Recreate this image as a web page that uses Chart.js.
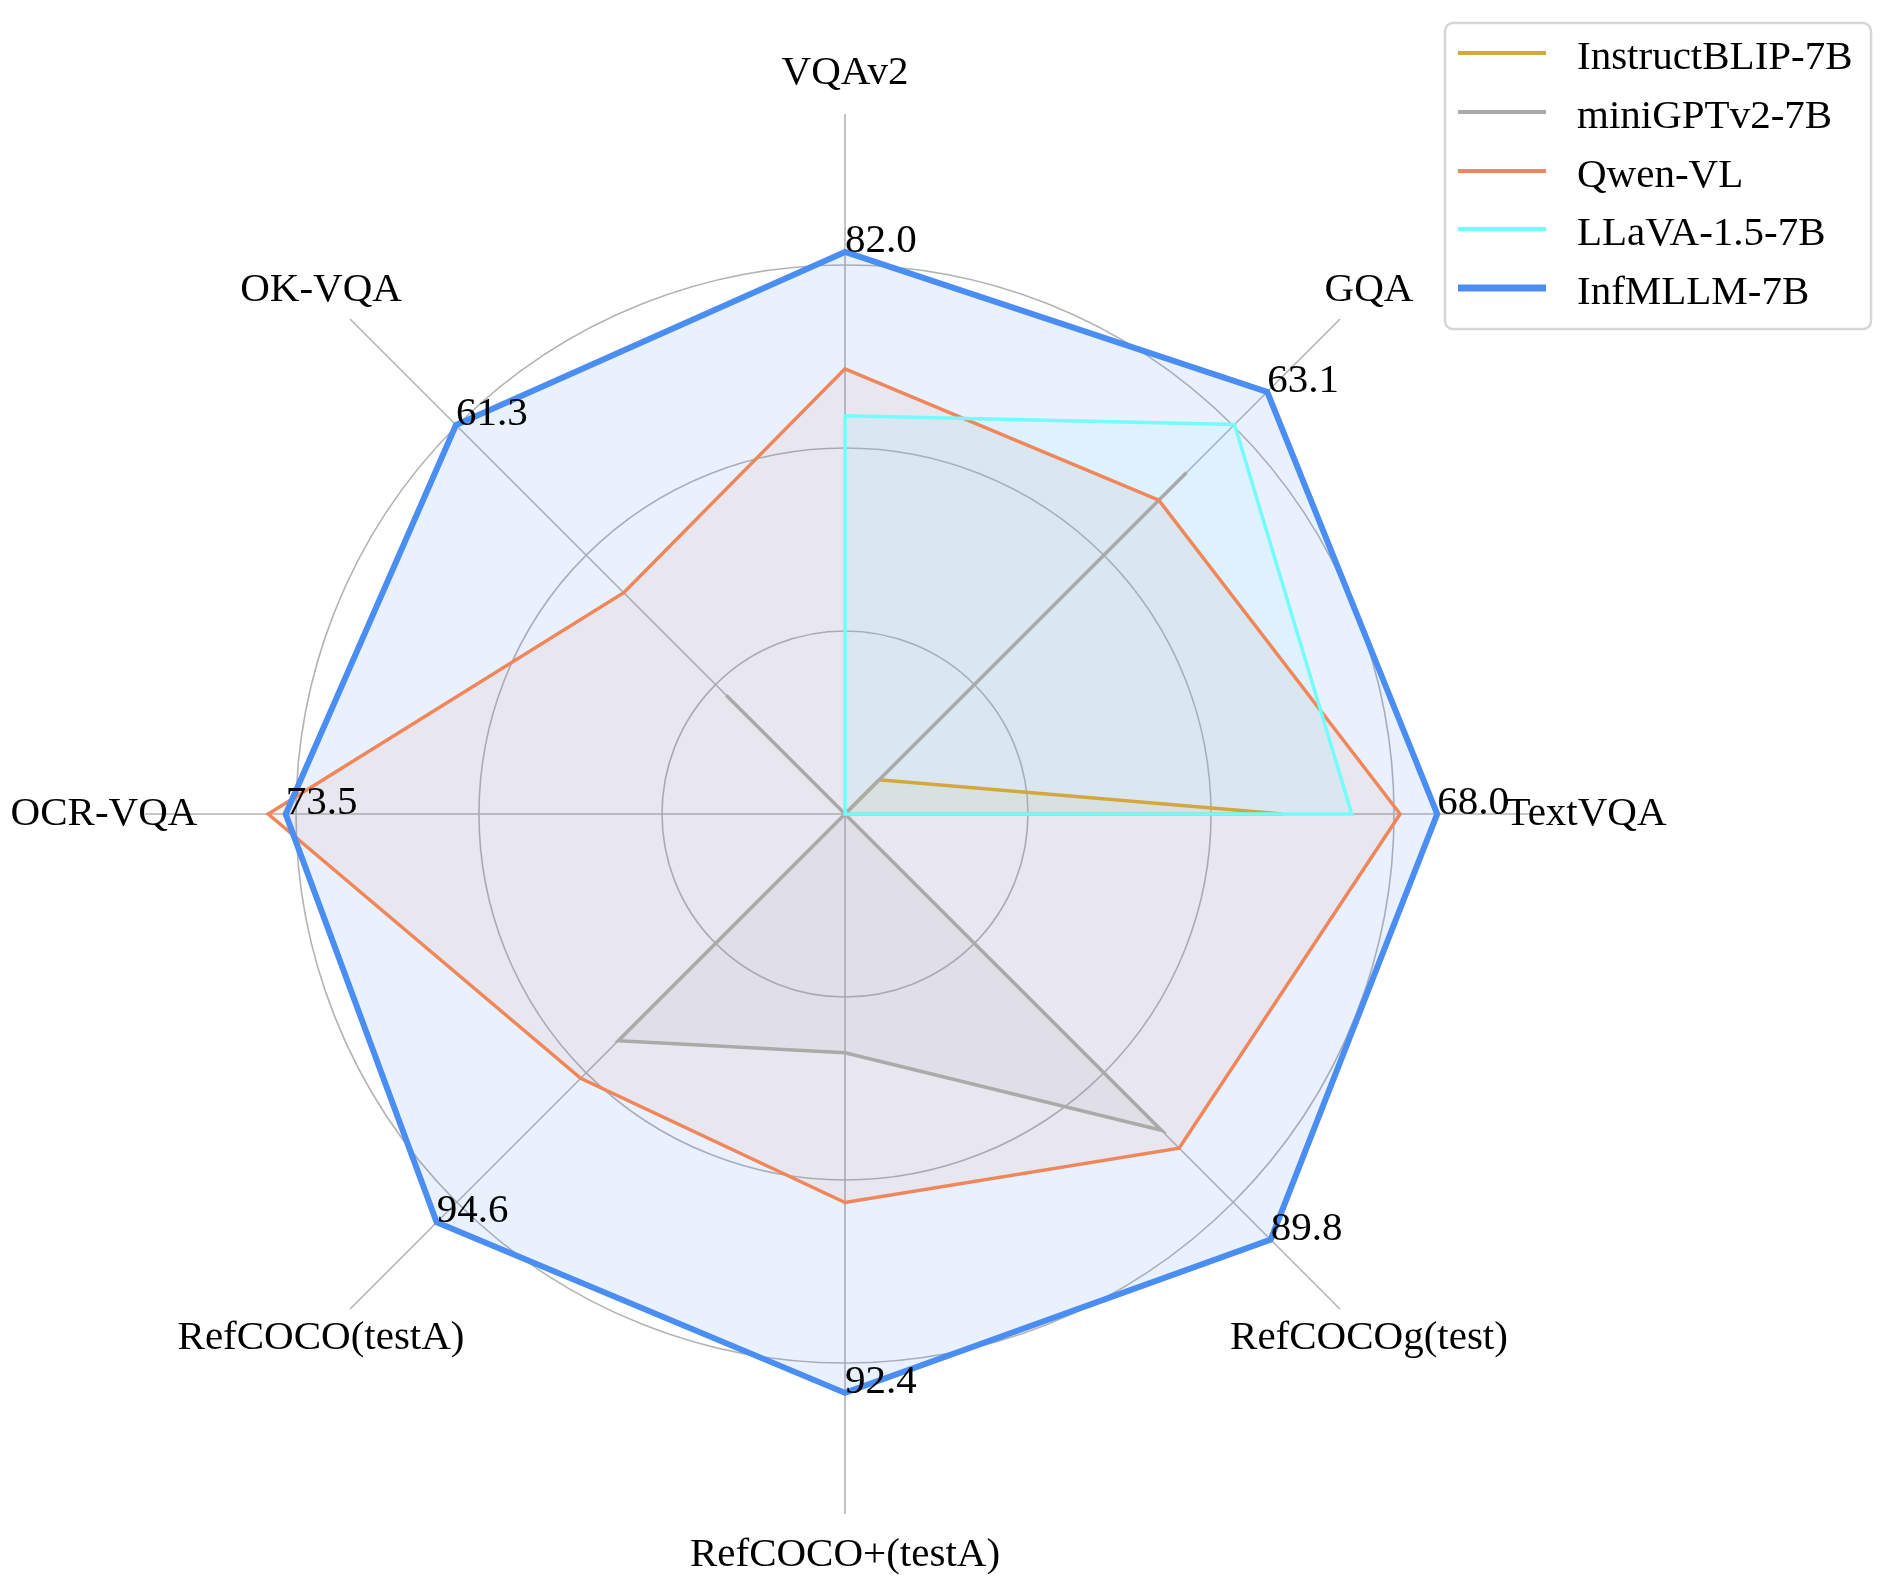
<!DOCTYPE html>
<html>
<head>
<meta charset="utf-8">
<script src="https://cdn.jsdelivr.net/npm/chart.js@4.4.1/dist/chart.umd.min.js"></script>
<style>
  html, body { margin: 0; padding: 0; background: #ffffff; }
  #wrap { width: 1896px; height: 1590px; position: relative; }
  canvas { display: block; }
</style>
</head>
<body>
<div id="wrap"><canvas id="c" width="1896" height="1590"></canvas></div>
<script>
// Axis categories (clockwise from top)
const categories = ['VQAv2', 'GQA', 'TextVQA', 'RefCOCOg(test)', 'RefCOCO+(testA)', 'RefCOCO(testA)', 'OCR-VQA', 'OK-VQA'];
// Value labels shown at InfMLLM points
const infmllmLabels = ['82.0', '63.1', '68.0', '89.8', '92.4', '94.6', '73.5', '61.3'];
// Series names
const seriesNames = ['InstructBLIP-7B', 'miniGPTv2-7B', 'Qwen-VL', 'LLaVA-1.5-7B', 'InfMLLM-7B'];
// Normalised radial positions (axis end = 1)
const instructBLIP = [0, 0.069, 0.625, 0, 0, 0, 0, 0];
const miniGPTv2   = [0, 0.690, 0, 0.639, 0.341, 0.458, 0, 0.240];
const qwenVL      = [0.636, 0.634, 0.793, 0.675, 0.555, 0.534, 0.824, 0.447];
const llava15     = [0.569, 0.787, 0.724, 0, 0, 0, 0, 0];
const infmllm     = [0.803, 0.853, 0.846, 0.860, 0.827, 0.825, 0.799, 0.786];
// Grid ring positions
const ringTicks = [0, 0.2614, 0.5229, 0.7843];

const colors = ['#D4A73D', '#AAAAAA', '#F0865A', '#74FBFB', '#4A8EF3'];
const fills  = ['rgba(212,167,61,0.10)', 'rgba(170,170,170,0.10)', 'rgba(240,134,90,0.10)', 'rgba(116,251,251,0.10)', 'rgba(74,142,243,0.12)'];
const widths = [3.5, 3.6, 3.5, 3.5, 6];
const seriesData = [instructBLIP, miniGPTv2, qwenVL, llava15, infmllm];

const FONT = '41px "Liberation Serif", "Times New Roman", serif';

const labelPlugin = {
  id: 'labelPlugin',
  afterDraw(chart) {
    const ctx = chart.ctx;
    const scale = chart.scales.r;
    ctx.save();
    ctx.font = FONT;
    ctx.fillStyle = '#000000';
    // axis labels
    ctx.textAlign = 'center';
    ctx.textBaseline = 'alphabetic';
    categories.forEach((lab, i) => {
      const p = scale.getPointPosition(i, scale.drawingArea * 1.0586);
      ctx.fillText(lab, p.x, p.y + 11);
    });
    // value labels (left/baseline anchored at InfMLLM points)
    ctx.textAlign = 'left';
    infmllmLabels.forEach((lab, i) => {
      const p = scale.getPointPositionForValue(i, infmllm[i]);
      ctx.fillText(lab, p.x, p.y);
    });
    // legend
    const bx = 1445, by = 23, bw = 426, bh = 306, rr = 8;
    ctx.beginPath();
    ctx.moveTo(bx + rr, by);
    ctx.lineTo(bx + bw - rr, by);
    ctx.arcTo(bx + bw, by, bx + bw, by + rr, rr);
    ctx.lineTo(bx + bw, by + bh - rr);
    ctx.arcTo(bx + bw, by + bh, bx + bw - rr, by + bh, rr);
    ctx.lineTo(bx + rr, by + bh);
    ctx.arcTo(bx, by + bh, bx, by + bh - rr, rr);
    ctx.lineTo(bx, by + rr);
    ctx.arcTo(bx, by, bx + rr, by, rr);
    ctx.closePath();
    ctx.fillStyle = 'rgba(255,255,255,0.8)';
    ctx.fill();
    ctx.strokeStyle = '#d6d6d6';
    ctx.lineWidth = 2.5;
    ctx.stroke();
    const rows = [53, 112, 171, 229, 288];
    seriesNames.forEach((name, i) => {
      ctx.beginPath();
      ctx.moveTo(1458, rows[i]);
      ctx.lineTo(1546, rows[i]);
      ctx.strokeStyle = colors[i];
      ctx.lineWidth = i === 4 ? 7 : 4;
      ctx.stroke();
      ctx.fillStyle = '#000000';
      ctx.textAlign = 'left';
      ctx.fillText(name, 1577, rows[i] + 15.5);
    });
    ctx.restore();
  }
};

const datasets = seriesNames.map((name, i) => ({
  label: name,
  data: seriesData[i],
  borderColor: colors[i],
  backgroundColor: fills[i],
  borderWidth: widths[i],
  fill: true,
  pointRadius: 0,
  pointHoverRadius: 0,
  tension: 0,
  order: 5 - i
}));

new Chart(document.getElementById('c'), {
  type: 'radar',
  data: { labels: categories, datasets },
  options: {
    responsive: false,
    animation: false,
    devicePixelRatio: 1,
    layout: { padding: { left: 145, right: 351, top: 114, bottom: 76 } },
    plugins: {
      legend: { display: false },
      tooltip: { enabled: false },
      filler: { drawTime: 'beforeDatasetsDraw' }
    },
    elements: { line: { borderJoinStyle: 'miter' } },
    scales: {
      r: {
        min: 0,
        max: 1,
        afterBuildTicks(scale) {
          scale.ticks = ringTicks.map(v => ({ value: v }));
        },
        ticks: { display: false },
        pointLabels: { display: false },
        grid: { circular: true, color: '#b3b3b3', lineWidth: 1.6 },
        angleLines: { display: true, color: '#b3b3b3', lineWidth: 1.6 }
      }
    }
  },
  plugins: [labelPlugin]
});
</script>
</body>
</html>
